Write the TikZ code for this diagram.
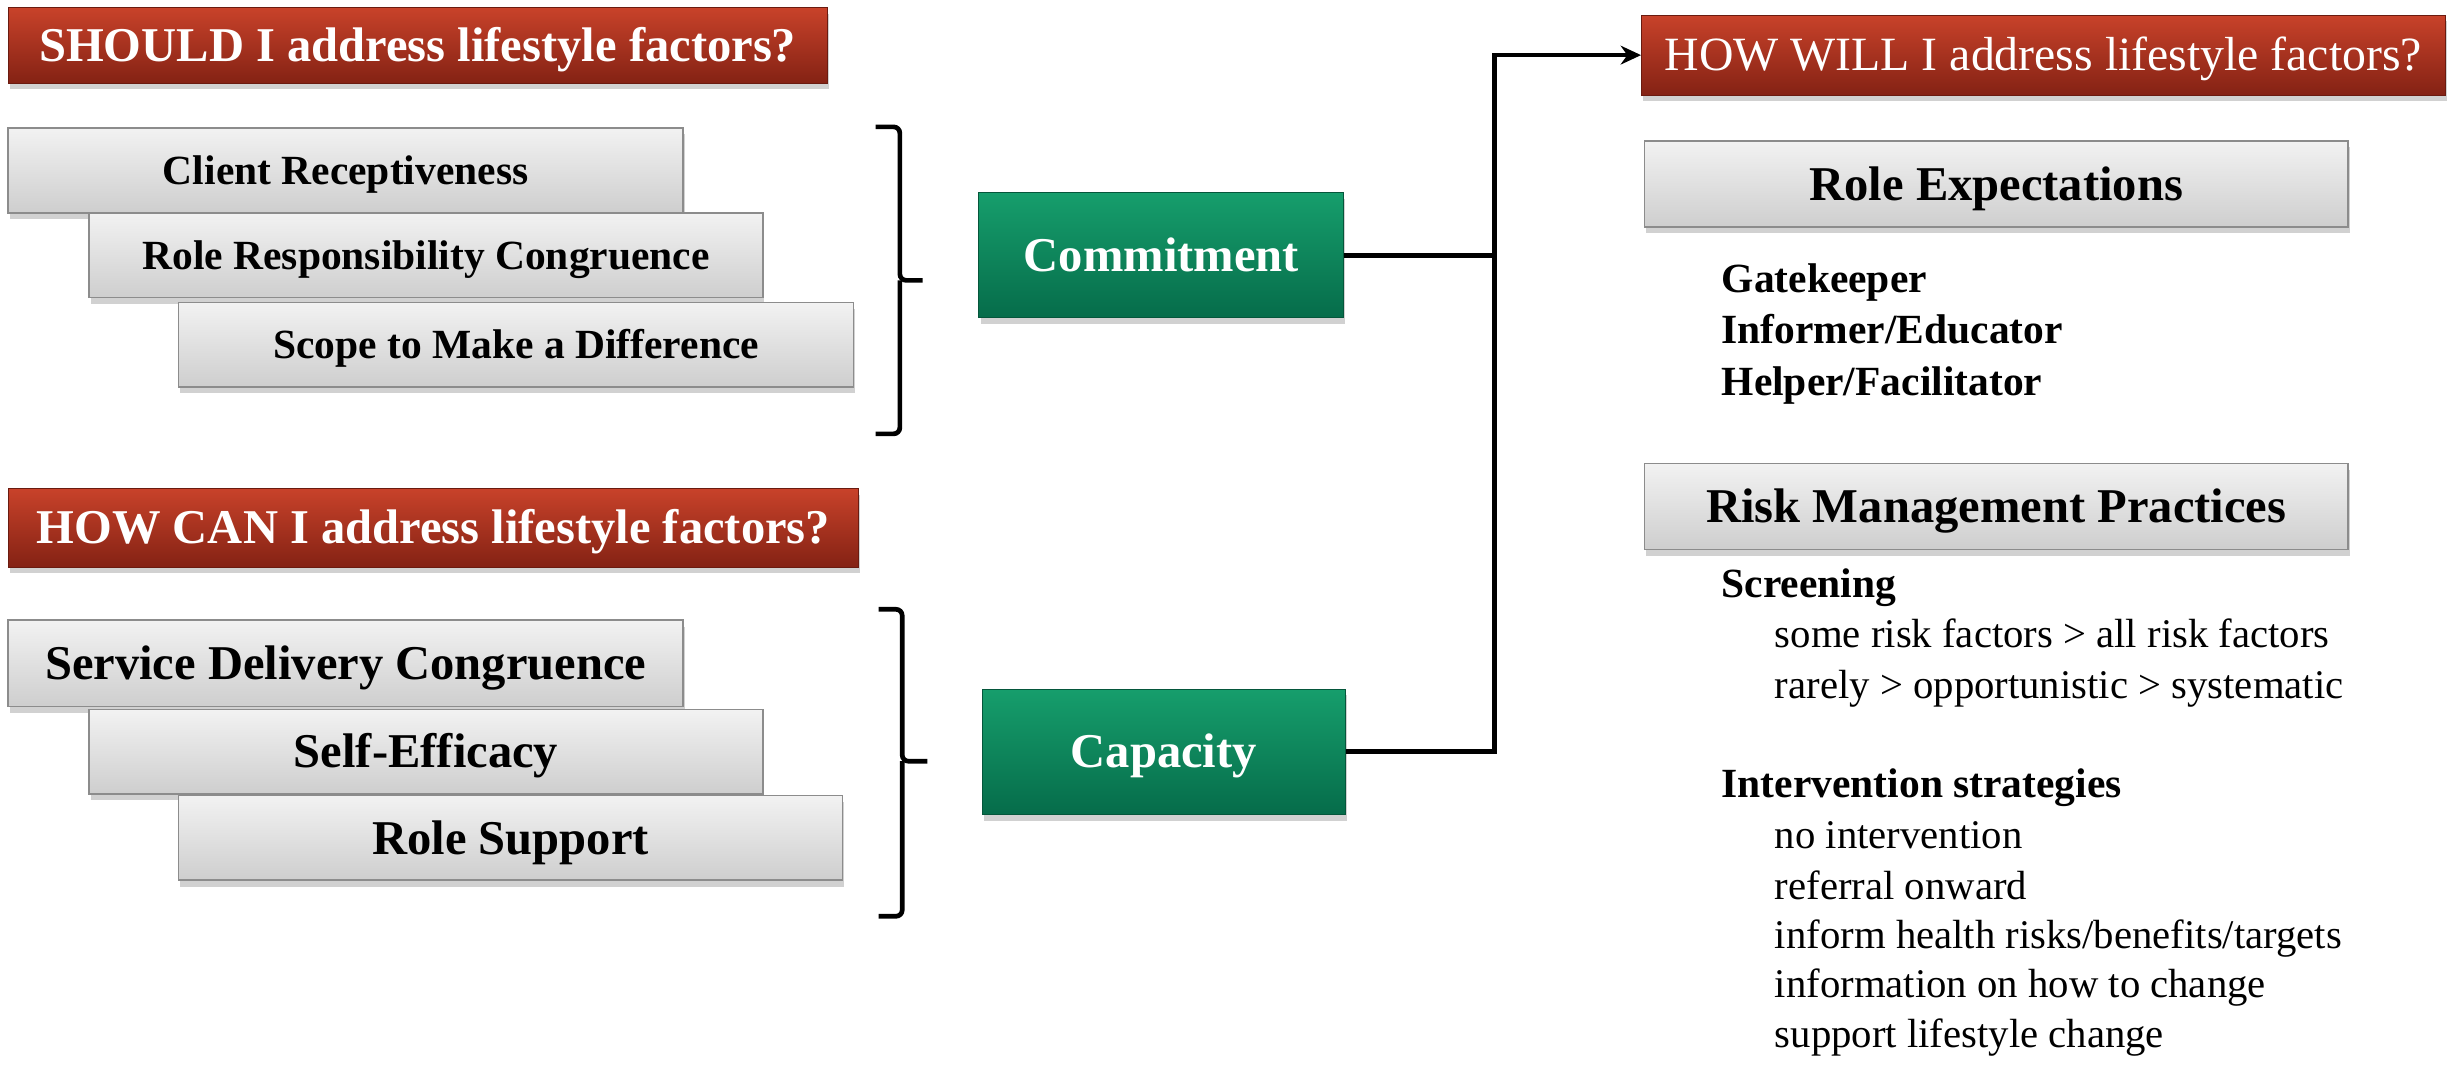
\documentclass[tikz,border=0pt]{standalone}
\usepackage{fontspec}
\setmainfont{Liberation Serif}
\usetikzlibrary{shadows,arrows.meta}
\definecolor{redtop}{RGB}{200,66,42}
\definecolor{redbot}{RGB}{132,34,20}
\definecolor{greentop}{RGB}{22,158,108}
\definecolor{greenbot}{RGB}{6,108,74}
\definecolor{graytop}{RGB}{242,242,242}
\definecolor{graybot}{RGB}{206,206,206}
\definecolor{grayedge}{RGB}{140,140,140}
\tikzset{
  boxshadow/.style={drop shadow={shadow xshift=1pt,shadow yshift=-4pt,opacity=0.3,fill=black!60}},
  redbox/.style={rectangle,inner sep=0pt,top color=redtop,bottom color=redbot,draw=redbot!80!black,line width=0.6pt,text=white,boxshadow},
  greenbox/.style={rectangle,inner sep=0pt,top color=greentop,bottom color=greenbot,draw=greenbot!80!black,line width=0.6pt,text=white,boxshadow,font=\fontsize{31}{36}\selectfont\bfseries,text height=20.5pt,text depth=0pt},
  graybox/.style={rectangle,inner sep=0pt,top color=graytop,bottom color=graybot,draw=grayedge,line width=1pt,text=black,boxshadow},
  bigtitle/.style={font=\fontsize{31}{36}\selectfont\bfseries,text height=20.5pt,text depth=0pt},
  smallitem/.style={font=\fontsize{26.5}{30}\selectfont\bfseries,text height=17.5pt,text depth=0pt},
  bigitem/.style={font=\fontsize{31}{36}\selectfont\bfseries,text height=20.5pt,text depth=0pt},
  listhead/.style={anchor=base west,inner sep=0pt,font=\fontsize{26.5}{30}\selectfont\bfseries},
  listitem/.style={anchor=base west,inner sep=0pt,font=\fontsize{26}{30}\selectfont},
  conn/.style={line width=3pt,black},
  brk/.style={line width=3pt,black,rounded corners=4pt}
}
\begin{document}
\begin{tikzpicture}[x=1pt,y=-1pt]
\useasboundingbox (0,0) rectangle (1568,684);
% left column titles
\node[redbox,bigtitle,minimum width=523,minimum height=48] (should) at (266.7,29) {SHOULD I address lifestyle factors?};
\node[redbox,bigtitle,minimum width=543,minimum height=50] (howcan) at (276.7,337) {HOW CAN I address lifestyle factors?};
% commitment factors
\node[graybox,smallitem,minimum width=431,minimum height=54.5] (client) at (220.7,108.8) {Client Receptiveness};
\node[graybox,smallitem,minimum width=430,minimum height=54] (roleresp) at (272,163) {Role Responsibility Congruence};
\node[graybox,smallitem,minimum width=431,minimum height=54] (scope) at (329.5,220) {Scope to Make a Difference};
% capacity factors
\node[graybox,bigitem,minimum width=431,minimum height=55] (service) at (220.7,423.5) {Service Delivery Congruence};
\node[graybox,bigitem,minimum width=430,minimum height=54] (selfeff) at (272,480) {Self-Efficacy};
\node[graybox,bigitem,minimum width=424,minimum height=54] (rolesup) at (326,535) {Role Support};
% brackets
\draw[brk] (559,81) -- (574.5,81) -- (574.5,179) -- (589,179);
\draw[brk] (559,277) -- (574.5,277) -- (574.5,179);
\draw[brk] (561,389) -- (576,389) -- (576,486) -- (592,486);
\draw[brk] (561,585) -- (576,585) -- (576,486);
% green nodes
\node[greenbox,minimum width=233,minimum height=80] (commit) at (741.5,163) {Commitment};
\node[greenbox,minimum width=232,minimum height=80] (capacity) at (743,480) {Capacity};
% right column
\node[redbox,font=\fontsize{30.5}{36}\selectfont,text height=20.2pt,text depth=0pt,minimum width=513,minimum height=51] (howwill) at (1304.5,35.2) {HOW WILL I address lifestyle factors?};
\node[graybox,bigitem,minimum width=449,minimum height=55] (roleexp) at (1274.5,117.5) {Role Expectations};
\node[graybox,bigitem,minimum width=449,minimum height=55] (riskman) at (1274.5,323.3) {Risk Management Practices};
\node[listhead] (gk) at (1099,187) {Gatekeeper};
\node[listhead] (inf) at (1099,219.5) {Informer/Educator};
\node[listhead] (help) at (1099,252.5) {Helper/Facilitator};
\node[listhead] (scr) at (1099,381.5) {Screening};
\node[listitem] (s1) at (1133,413.5) {some risk factors > all risk factors};
\node[listitem] (s2) at (1133,446) {rarely > opportunistic > systematic};
\node[listhead] (intv) at (1099,509) {Intervention strategies};
\node[listitem] (i1) at (1133,541.5) {no intervention};
\node[listitem] (i2) at (1133,574) {referral onward};
\node[listitem] (i3) at (1133,605.5) {inform health risks/benefits/targets};
\node[listitem] (i4) at (1133,637) {information on how to change};
\node[listitem] (i5) at (1133,668.5) {support lifestyle change};
% connectors
\coordinate (jx) at (954,35.2);
\draw[conn] (commit.east) -- (commit.east -| jx);
\draw[conn,-{Stealth[length=13pt,width=12pt]}] (capacity.east) -| (jx) -- (howwill.west);
\end{tikzpicture}
\end{document}
